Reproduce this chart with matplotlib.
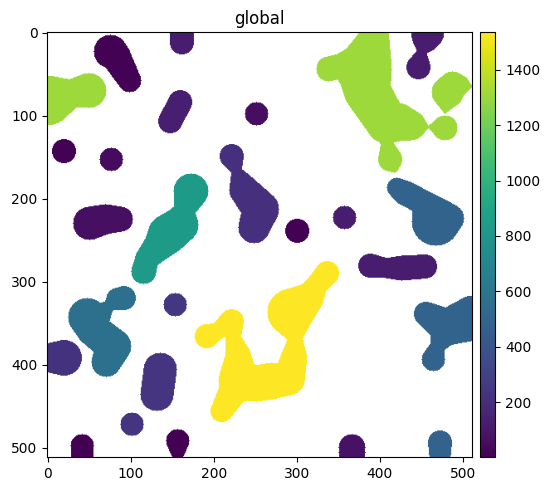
import numpy as np
import matplotlib
matplotlib.use("Agg")
import matplotlib.pyplot as plt

# label value of every region, and its outline as chains of (x, y, radius)
dark_a = [[(76, 23, 20), (82, 28, 18), (99, 58, 14)]]
dark_b = [[(20, 143, 14.5)]]
dark_c = [[(301, 239, 14.5)]]
dark_d = [[(42, 498, 14), (42, 518, 13)]]
dark_e = [[(157, 492, 14), (157, 512, 6)]]
small_a = [[(77, 153, 14)]]
small_b = [[(252, 98, 14)]]
bar_a = [[(51, 230, 20), (70, 225, 18), (88, 225, 15)]]
bottom_a = [[(367, 500, 16), (367, 518, 16)]]
top_a = [[(162, 0, 14), (162, 12, 14.5)]]
caps_a = [[(160, 84, 14.5), (148, 107, 14.5)]]
dot_a = [[(358, 223, 14)]]
top_b = [[(458, 0, 20), (456, 8, 16), (451, 23, 5), (447, 42, 14.5)]]
bar_b = [[(389, 281, 14.5), (408, 284, 12), (427, 284, 15), (455, 282, 14.5)]]
purple_a = [[(222, 149, 14.5), (228, 167, 6), (237, 190, 18), (257, 213, 22), (249, 235, 19)]]
purple_b = [[(0, 392, 17), (20, 392, 21.5)]]
purple_c = [[(136, 406, 20), (132, 436, 20)]]
purple_d = [[(154, 328, 14)]]
purple_e = [[(102, 472, 14)]]
blue_a = [[(421, 187, 12), (432, 194, 15), (455, 206, 15), (468, 228, 29), (485, 224, 17)]]
blue_b = [[(456, 339, 14.5), (482, 355, 22), (513, 344, 27)], [(482, 355, 20), (470, 378, 9), (465, 394, 14)]]
blue_c = [[(473, 494, 14.5), (473, 518, 12)]]
teal_a = [[(84, 321, 13), (92, 320, 14.5)],
          [(84, 321, 13), (74, 330, 6), (60, 342, 16), (48, 343, 23), (55, 358, 20), (80, 378, 21), (71, 397, 18)]]
green_a = [[(173, 191, 21), (165, 215, 12), (160, 232, 22), (145, 243, 24), (136, 255, 19), (120, 272, 14), (116, 288, 15)]]
lime_a = [[(0, 82, 30), (28, 74, 17), (50, 70, 21)],
          [(394, -7, 18), (393, 9, 19), (382, 45, 33), (385, 70, 28), (409, 109, 25), (422, 108, 23), (438, 112, 18), (459, 114, 1), (479, 115, 15)],
          [(339, 44, 15), (355, 40, 15), (382, 45, 33)],
          [(409, 125, 12), (409, 133, 7), (413, 153, 14.5), (418, 165, 4)],
          [(479, 97, 1), (482, 72, 19), (488, 63, 16), (498, 62, 10), (511, 65, 1)],
          [(479, 97, 1), (511, 65, 1)],
          [(490, 79, 9), (500, 68, 5)]]
yellow_a = [[(192, 366, 14.5), (205, 360, 10), (222, 348, 14.5), (224, 368, 9), (230, 390, 15.5), (230, 420, 24), (225, 430, 18), (210, 456, 13.5)],
            [(230, 420, 24), (252, 423, 22), (270, 420, 22), (291, 418, 19), (297, 392, 16), (299, 368, 8), (293, 337, 28), (315, 320, 18), (324, 305, 13), (337, 290, 14.5)]]

regions = [
    (8, dark_a), (12, dark_b), (10, dark_c), (5, dark_d), (5, dark_e),
    (45, small_a), (55, small_b), (65, bar_a), (75, bottom_a),
    (125, top_a), (130, caps_a), (120, dot_a), (125, top_b), (125, bar_b),
    (215, purple_a), (225, purple_b), (240, purple_c), (250, purple_d), (235, purple_e),
    (490, blue_a), (490, blue_b), (490, blue_c),
    (570, teal_a), (835, green_a), (1310, lime_a), (1535, yellow_a),
]

yy, xx = np.mgrid[0:512, 0:512]
labels = np.full((512, 512), np.nan)
for value, chains in regions:
    for chain in chains:
        for (x0, y0, r0), (x1, y1, r1) in zip(chain[:-1] or chain, chain[1:] or chain):
            for t in np.linspace(0, 1, 40):
                r = r0 + (r1 - r0) * t
                cx = x0 + (x1 - x0) * t
                cy = y0 + (y1 - y0) * t
                labels[(xx - cx) ** 2 + (yy - cy) ** 2 <= r ** 2] = value

cmap = plt.get_cmap("viridis").with_extremes(bad="white")

fig = plt.figure(figsize=(5.49, 4.91), dpi=100)
ax = fig.add_axes([46.7 / 549, 1 - 457.3 / 491, 426 / 549, 425 / 491])
im = ax.imshow(np.ma.masked_invalid(labels), cmap=cmap, vmin=1, vmax=1535,
               interpolation_stage="rgba")
ax.set_title("global")
cax = fig.add_axes([480.3 / 549, 1 - 457.3 / 491, 15 / 549, 425 / 491])
fig.colorbar(im, cax=cax)
fig.savefig("out.png", dpi=100)
